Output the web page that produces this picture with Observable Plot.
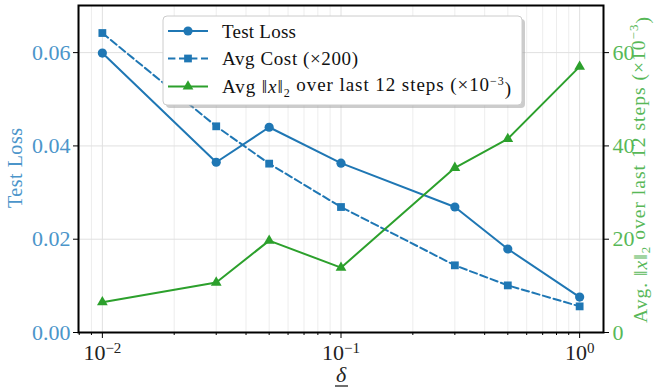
<!DOCTYPE html>
<html>
<head>
<meta charset="utf-8">
<script src="https://cdn.jsdelivr.net/npm/d3@7"></script>
<script src="https://cdn.jsdelivr.net/npm/@observablehq/plot@0.6"></script>
<style>
  html, body { margin: 0; padding: 0; background: #fff; }
  #chart svg { display: block; }
</style>
</head>
<body>
<div id="chart"></div>
<script>
// ---- data ----
const deltas = [0.01, 0.03, 0.05, 0.1, 0.3, 0.5, 1.0];
const testLoss = [0.0599, 0.0365, 0.0440, 0.0363, 0.0269, 0.0179, 0.0076];
const avgCost = [0.0642, 0.0442, 0.0362, 0.0269, 0.0144, 0.0101, 0.0056];   // (x200)
const avgNorm = [6.5, 10.7, 19.7, 13.9, 35.3, 41.5, 57.0];                  // (x1e-3)
const xMajorTicks = [0.01, 0.1, 1];
const xMinorTicks = [0.008, 0.009, 0.02, 0.03, 0.04, 0.05, 0.06, 0.07, 0.08, 0.09,
                     0.2, 0.3, 0.4, 0.5, 0.6, 0.7, 0.8, 0.9];
const leftTicks = [0, 0.02, 0.04, 0.06];
const rightTicks = [0, 20, 40, 60];
const rightScale = 1000; // right axis value = left value * 1000

const blue = "#1f77b4", green = "#2ca02c";
const blueText = "#4b95ca", greenText = "#58b858";
const font = "'Liberation Serif', 'DejaVu Serif', serif";

const rows = deltas.map((d, i) => ({
  delta: d, loss: testLoss[i], cost: avgCost[i], norm: avgNorm[i] / rightScale
}));

const W = 655, H = 388;
const chart = Plot.plot({
  width: W, height: H,
  marginLeft: 78, marginRight: 52, marginTop: 5, marginBottom: 56,
  style: { fontFamily: font, background: "white" },
  x: { type: "log", domain: [Math.pow(10, -2.1), Math.pow(10, 0.1)] },
  y: { domain: [0, 0.0701] },
  marks: [
    Plot.gridX(xMinorTicks, { stroke: "#e8e8e8", strokeOpacity: 1, strokeWidth: 0.8 }),
    Plot.gridX(xMajorTicks, { stroke: "#e0e0e0", strokeOpacity: 1, strokeWidth: 1 }),
    Plot.gridY(leftTicks.slice(1), { stroke: "#e0e0e0", strokeOpacity: 1, strokeWidth: 1 }),
    Plot.axisX({ ticks: xMinorTicks, tickSize: 3, tickFormat: () => "", stroke: "black", label: null }),
    Plot.axisX({ ticks: xMajorTicks, tickSize: 6, tickPadding: 6, stroke: "black", fill: "#222",
      fontSize: 22, label: null,
      tickFormat: d => "10^" + Math.round(Math.log10(d)) }),
    Plot.axisY({ ticks: leftTicks, tickSize: 5, tickPadding: 3, stroke: "black", fill: blueText,
      fontSize: 22, label: null, tickFormat: d3.format(".2f") }),
    Plot.axisY({ anchor: "right", ticks: rightTicks.map(v => v / rightScale), tickSize: 5, tickPadding: 4,
      stroke: "black", fill: greenText, fontSize: 22, label: null,
      tickFormat: d => String(Math.round(d * rightScale)) }),
    Plot.line(rows, { x: "delta", y: "loss", stroke: blue, strokeWidth: 2 }),
    Plot.dot(rows, { x: "delta", y: "loss", fill: blue, r: 4.6, symbol: "circle" }),
    Plot.line(rows, { x: "delta", y: "cost", stroke: blue, strokeWidth: 2, strokeDasharray: "7.4,3.6" }),
    Plot.dot(rows, { x: "delta", y: "cost", fill: blue, r: 4.4, symbol: "square" }),
    Plot.line(rows, { x: "delta", y: "norm", stroke: green, strokeWidth: 2 }),
    Plot.dot(rows, { x: "delta", y: "norm", fill: green, r: 4.0, symbol: "triangle" }),
    Plot.frame({ stroke: "black", strokeWidth: 2 })
  ]
});

const svg = d3.select(chart);

// superscripts on x tick labels
svg.selectAll("g[aria-label='x-axis tick label'] text").each(function () {
  const t = d3.select(this);
  const s = t.text();
  if (!s.includes("^")) return;
  const [base, exp] = s.split("^");
  t.text(base);
  t.append("tspan").attr("dy", "-0.45em").attr("font-size", "15px").text(exp.replace("-", "\u2212"));
});

// axis titles
svg.append("text")
  .attr("transform", "translate(22,168) rotate(-90)")
  .attr("text-anchor", "middle").attr("font-family", font).attr("font-size", 20)
  .attr("textLength", 80).attr("lengthAdjust", "spacing")
  .attr("fill", blueText).text("Test Loss");

const rt = svg.append("text")
  .attr("transform", "translate(647,170) rotate(-90)")
  .attr("text-anchor", "middle").attr("font-family", font).attr("font-size", 19.5)
  .attr("textLength", 306).attr("lengthAdjust", "spacing")
  .attr("fill", greenText);
rt.append("tspan").text("Avg. \u2016");
rt.append("tspan").attr("font-style", "italic").text("x");
rt.append("tspan").text("\u2016");
rt.append("tspan").attr("font-size", 13).attr("dy", "0.25em").text("2");
rt.append("tspan").attr("dy", "-0.25em").text(" over last 12 steps (\u00d710");
rt.append("tspan").attr("font-size", 13).attr("dy", "-0.55em").text("\u22123");
rt.append("tspan").attr("dy", "0.55em").text(")");

svg.append("text")
  .attr("x", 341).attr("y", 382)
  .attr("text-anchor", "middle").attr("font-family", font).attr("font-size", 22)
  .attr("font-style", "italic").attr("fill", "#222").text("\u03b4");
svg.append("line").attr("x1", 335).attr("x2", 348).attr("y1", 386).attr("y2", 386)
  .attr("stroke", "#222").attr("stroke-width", 1.3);

// legend
const lg = svg.append("g").attr("font-family", font).attr("font-size", 19).attr("text-anchor", "start");
lg.append("rect").attr("x", 166).attr("y", 19).attr("width", 359).attr("height", 89).attr("rx", 4)
  .attr("fill", "#999").attr("fill-opacity", 0.5);
lg.append("rect").attr("x", 163).attr("y", 16).attr("width", 359).attr("height", 89).attr("rx", 4)
  .attr("fill", "white").attr("stroke", "#cccccc").attr("stroke-width", 1);
const entries = [
  { y: 31, color: blue, dash: null, sym: d3.symbolCircle, size: 66 },
  { y: 58.5, color: blue, dash: "7.4,3.6", sym: d3.symbolSquare, size: 60 },
  { y: 86.5, color: green, dash: null, sym: d3.symbolTriangle, size: 50 }
];
entries.forEach(e => {
  lg.append("line").attr("x1", 168).attr("x2", 208).attr("y1", e.y).attr("y2", e.y)
    .attr("stroke", e.color).attr("stroke-width", 2).attr("stroke-dasharray", e.dash);
  lg.append("path").attr("d", d3.symbol(e.sym, e.size)()).attr("transform", `translate(188,${e.y})`)
    .attr("fill", e.color);
});
lg.append("text").attr("x", 222).attr("y", 31).attr("dy", "0.35em").attr("fill", "#111")
  .attr("textLength", 74).attr("lengthAdjust", "spacing").text("Test Loss");
lg.append("text").attr("x", 222).attr("y", 58.5).attr("dy", "0.35em").attr("fill", "#111")
  .attr("textLength", 136).attr("lengthAdjust", "spacing").text("Avg Cost (\u00d7200)");
const t3 = lg.append("text").attr("x", 222).attr("y", 86.5).attr("dy", "0.35em").attr("fill", "#111")
  .attr("textLength", 289).attr("lengthAdjust", "spacing");
t3.append("tspan").text("Avg \u2016");
t3.append("tspan").attr("font-style", "italic").text("x");
t3.append("tspan").text("\u2016");
t3.append("tspan").attr("font-size", 12).attr("dy", "0.3em").text("2");
t3.append("tspan").attr("dy", "-0.3em").text(" over last 12 steps (\u00d710");
t3.append("tspan").attr("font-size", 12).attr("dy", "-0.5em").text("\u22123");
t3.append("tspan").attr("dy", "0.5em").text(")");

document.getElementById("chart").appendChild(chart);
</script>
</body>
</html>
